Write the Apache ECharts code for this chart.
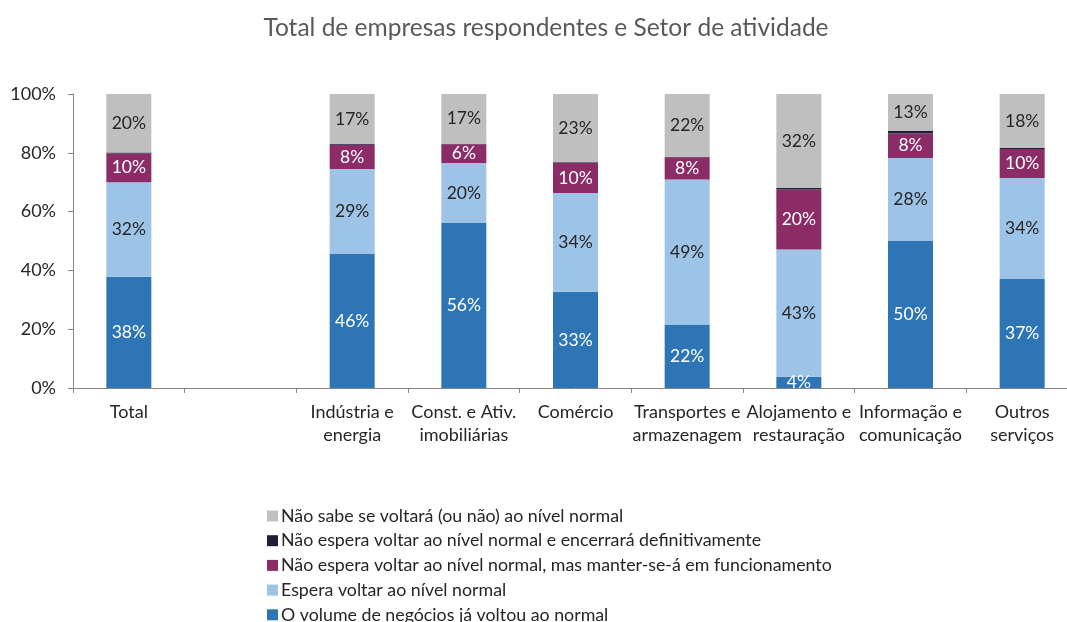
<!DOCTYPE html>
<html>
<head>
<meta charset="utf-8">
<script src="https://cdn.jsdelivr.net/npm/echarts@6/dist/echarts.min.js"></script>
<style>
html,body{margin:0;padding:0;background:#fff;overflow:hidden;width:1067px;height:622px;}
#chart{width:1080px;height:650px;}
</style>
</head>
<body>
<div id="chart"></div>
<script>
const categories = ['Total', '', 'Indústria e\nenergia', 'Const. e Ativ.\nimobiliárias', 'Comércio', 'Transportes e\narmazenagem', 'Alojamento e\nrestauração', 'Informação e\ncomunicação', 'Outros\nserviços'];
const yTicks = [0, 20, 40, 60, 80, 100];
const jaVoltou      = [37.8, null, 45.6, 56.1, 32.7, 21.6, 3.8, 50.0, 37.1];
const esperaVoltar  = [32.2, null, 28.9, 20.4, 33.6, 49.3, 43.3, 28.2, 34.3];
const manterSe      = [9.8,  null, 8.2,  6.4,  10.2, 7.6,  20.4, 8.4,  9.9];
const encerrara     = [0.3,  null, 0.3,  0.2,  0.3,  0.1,  0.5,  0.8,  0.4];
const naoSabe       = [19.9, null, 17.0, 16.9, 23.2, 21.5, 32.0, 12.6, 18.3];

const seriesNames = [
  'O volume de negócios já voltou ao normal',
  'Espera voltar ao nível normal',
  'Não espera voltar ao nível normal, mas manter-se-á em funcionamento',
  'Não espera voltar ao nível normal e encerrará definitivamente',
  'Não sabe se voltará (ou não) ao nível normal'
];
const seriesData = [jaVoltou, esperaVoltar, manterSe, encerrara, naoSabe];
const colors = ['#2E75B6', '#9DC3E6', '#8B2C66', '#1F1F3D', '#BFBFBF'];
const labelColors = ['#ffffff', '#262626', '#ffffff', null, '#262626'];

const FONT = 'Lato, "Open Sans", sans-serif';

const chart = echarts.init(document.getElementById('chart'), null, {renderer: 'canvas'});
chart.setOption({
  animation: false,
  title: {
    text: 'Total de empresas respondentes e Setor de atividade',
    left: 541, top: 11, textAlign: 'center',
    textStyle: {fontFamily: FONT, fontSize: 24.5, fontWeight: 'normal', color: '#595959'}
  },
  legend: {
    orient: 'vertical',
    left: 262, top: 502,
    itemWidth: 11, itemHeight: 11, itemGap: 6.7,
    icon: 'rect',
    data: seriesNames.slice().reverse(),
    textStyle: {fontFamily: FONT, fontSize: 17.8, lineHeight: 18, color: '#262626', padding: [0,0,0,-2]}
  },
  grid: {left: 73, top: 94, width: 1005, height: 294, containLabel: false},
  xAxis: {
    type: 'category',
    data: categories,
    axisLine: {lineStyle: {color: '#868686'}},
    axisTick: {show: true, length: 5, lineStyle: {color: '#868686'}},
    axisLabel: {fontFamily: FONT, fontSize: 18, color: '#262626', margin: 13, lineHeight: 23, interval: 0}
  },
  yAxis: {
    type: 'value', min: 0, max: 100, interval: 20,
    axisLine: {show: true, lineStyle: {color: '#868686'}},
    axisTick: {show: true, length: 5, lineStyle: {color: '#868686'}},
    splitLine: {show: false},
    axisLabel: {fontFamily: FONT, fontSize: 18, color: '#262626', margin: 17, formatter: v => v + '%'}
  },
  series: seriesData.map((d, i) => ({
    name: seriesNames[i],
    type: 'bar',
    stack: 'total',
    barWidth: 45,
    data: d,
    itemStyle: {color: colors[i]},
    label: {
      show: labelColors[i] !== null,
      position: 'inside',
      fontFamily: FONT, fontSize: 17.5,
      color: labelColors[i] || '#fff',
      formatter: p => p.value == null ? '' : Math.round(p.value) + '%'
    }
  }))
});
</script>
</body>
</html>
